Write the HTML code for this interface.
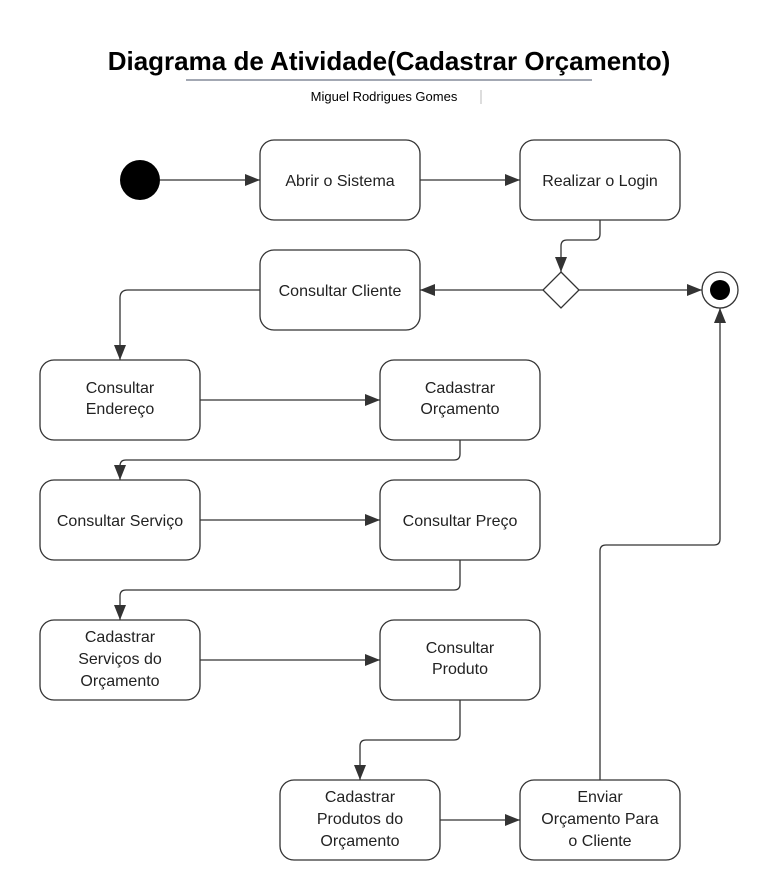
<!DOCTYPE html>
<html><head><meta charset="utf-8"><style>
html,body{margin:0;padding:0;background:#fff;}
svg{display:block;font-family:"Liberation Sans",Arial,sans-serif;}
</style></head><body>
<svg width="773" height="887" viewBox="0 0 773 887" xmlns="http://www.w3.org/2000/svg">
<defs>
<marker id="a" markerWidth="15" markerHeight="12" refX="15" refY="6" orient="auto" markerUnits="userSpaceOnUse">
<path d="M0,0 L15,6 L0,12 Z" fill="#333"/></marker>
</defs>
<text x="389" y="70" text-anchor="middle" font-size="26" font-weight="bold" fill="#000">Diagrama de Atividade(Cadastrar Orçamento)</text>
<line x1="186" y1="80" x2="592" y2="80" stroke="#a3a8b3" stroke-width="2"/>
<text x="384" y="101" text-anchor="middle" font-size="13" fill="#000">Miguel Rodrigues Gomes</text>
<line x1="481" y1="90" x2="481" y2="104" stroke="#bbb" stroke-width="1"/>

<g fill="#fff" stroke="#333" stroke-width="1.3">
<rect x="260" y="140" width="160" height="80" rx="14"/>
<rect x="520" y="140" width="160" height="80" rx="14"/>
<rect x="260" y="250" width="160" height="80" rx="14"/>
<rect x="40" y="360" width="160" height="80" rx="14"/>
<rect x="380" y="360" width="160" height="80" rx="14"/>
<rect x="40" y="480" width="160" height="80" rx="14"/>
<rect x="380" y="480" width="160" height="80" rx="14"/>
<rect x="40" y="620" width="160" height="80" rx="14"/>
<rect x="380" y="620" width="160" height="80" rx="14"/>
<rect x="280" y="780" width="160" height="80" rx="14"/>
<rect x="520" y="780" width="160" height="80" rx="14"/>
<path d="M561,272 L579,290 L561,308 L543,290 Z"/>
<circle cx="720" cy="290" r="18"/>
</g>
<circle cx="140" cy="180" r="20" fill="#000"/>
<circle cx="720" cy="290" r="10" fill="#000"/>

<g fill="none" stroke="#333" stroke-width="1.3" marker-end="url(#a)">
<path d="M160,180 L260,180"/>
<path d="M420,180 L520,180"/>
<path d="M600,220 L600,234 Q600,240 594,240 L567,240 Q561,240 561,246 L561,272"/>
<path d="M543,290 L420,290"/>
<path d="M579,290 L702,290"/>
<path d="M260,290 L128,290 Q120,290 120,298 L120,360"/>
<path d="M200,400 L380,400"/>
<path d="M460,440 L460,454 Q460,460 454,460 L126,460 Q120,460 120,466 L120,480"/>
<path d="M200,520 L380,520"/>
<path d="M460,560 L460,584 Q460,590 454,590 L126,590 Q120,590 120,596 L120,620"/>
<path d="M200,660 L380,660"/>
<path d="M460,700 L460,734 Q460,740 454,740 L366,740 Q360,740 360,746 L360,780"/>
<path d="M440,820 L520,820"/>
<path d="M600,780 L600,551 Q600,545 606,545 L714,545 Q720,545 720,539 L720,308"/>
</g>

<g font-size="16" fill="#222" text-anchor="middle">
<text x="340" y="186">Abrir o Sistema</text>
<text x="600" y="186">Realizar o Login</text>
<text x="340" y="296">Consultar Cliente</text>
<text x="120" y="393">Consultar</text><text x="120" y="414">Endereço</text>
<text x="460" y="393">Cadastrar</text><text x="460" y="414">Orçamento</text>
<text x="120" y="526">Consultar Serviço</text>
<text x="460" y="526">Consultar Preço</text>
<text x="120" y="642">Cadastrar</text><text x="120" y="664">Serviços do</text><text x="120" y="686">Orçamento</text>
<text x="460" y="653">Consultar</text><text x="460" y="674">Produto</text>
<text x="360" y="802">Cadastrar</text><text x="360" y="824">Produtos do</text><text x="360" y="846">Orçamento</text>
<text x="600" y="802">Enviar</text><text x="600" y="824">Orçamento Para</text><text x="600" y="846">o Cliente</text>
</g>
</svg>
</body></html>
